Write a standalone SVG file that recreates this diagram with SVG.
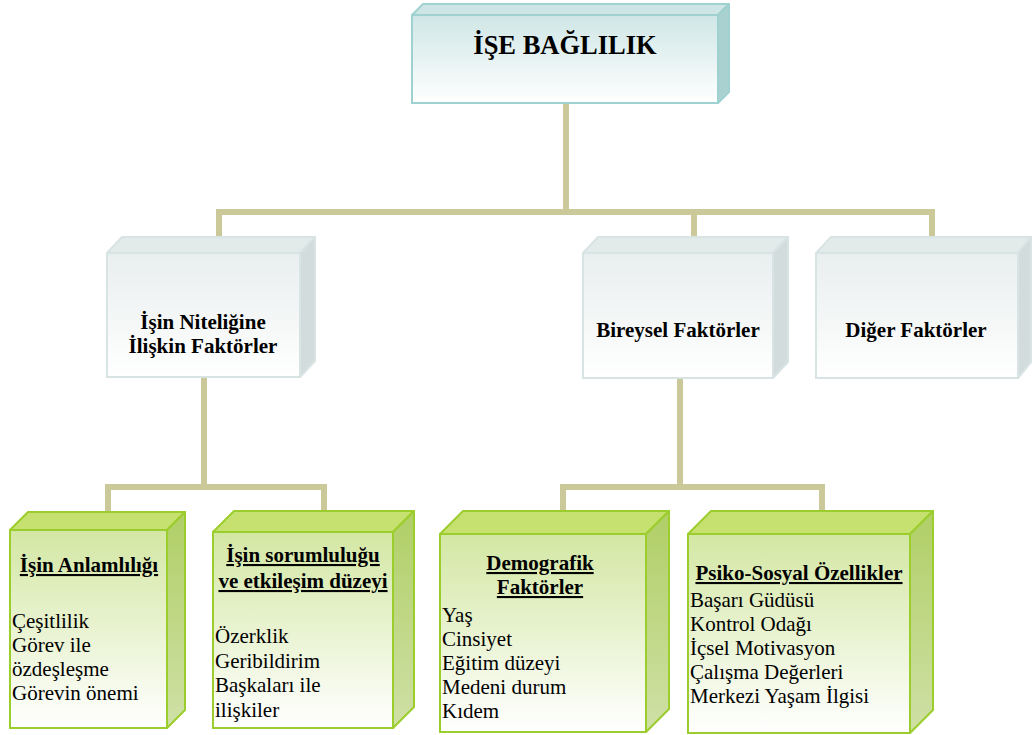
<svg xmlns="http://www.w3.org/2000/svg" width="1032" height="735" viewBox="0 0 1032 735">
<defs>
<linearGradient id="gTop" x1="0" y1="0" x2="0" y2="1">
<stop offset="0" stop-color="#cfe6e6"/><stop offset="1" stop-color="#ffffff"/>
</linearGradient>
<linearGradient id="gMid" x1="0" y1="0" x2="0" y2="1">
<stop offset="0" stop-color="#e9eeee"/><stop offset="1" stop-color="#ffffff"/>
</linearGradient>
<linearGradient id="gGreen" x1="0" y1="0" x2="0" y2="1">
<stop offset="0" stop-color="#d3e7a3"/><stop offset="1" stop-color="#ffffff"/>
</linearGradient>
<linearGradient id="gGreenSide" x1="0" y1="0" x2="0" y2="1">
<stop offset="0" stop-color="#b0cf66"/><stop offset="1" stop-color="#cfe0a6"/>
</linearGradient>
</defs>
<style>
.conn{fill:none;stroke:#cbc999;stroke-width:6;stroke-linejoin:miter}
.t-front{fill:url(#gTop);stroke:#9fd1d0;stroke-width:2}
.t-top{fill:#cde5e4;stroke:#9fd1d0;stroke-width:2;stroke-linejoin:round}
.t-side{fill:#a9d1cf;stroke:#9fd1d0;stroke-width:2;stroke-linejoin:round}
.m-front{fill:url(#gMid);stroke:#d8e3e3;stroke-width:2}
.m-top{fill:#e3eaea;stroke:#d8e3e3;stroke-width:2;stroke-linejoin:round}
.m-side{fill:#d3dcdc;stroke:#d8e3e3;stroke-width:2;stroke-linejoin:round}
.g-front{fill:url(#gGreen);stroke:#9bcd2c;stroke-width:2}
.g-top{fill:#c6e16f;stroke:#9bcd2c;stroke-width:2;stroke-linejoin:round}
.g-side{fill:url(#gGreenSide);stroke:#9bcd2c;stroke-width:2;stroke-linejoin:round}
.lbl-title{font-family:'Liberation Serif',serif;font-size:26.5px;font-weight:bold;text-anchor:middle;fill:#000}
.lbl-mid{font-family:'Liberation Serif',serif;font-size:21px;font-weight:bold;text-anchor:middle;fill:#000}
.lbl-head{font-family:'Liberation Serif',serif;font-size:21px;font-weight:bold;text-anchor:middle;text-decoration:underline;fill:#000}
.lbl-body{font-family:'Liberation Serif',serif;font-size:21px;fill:#000}
</style>
<g id="connectors">
<path class="conn" d="M566,103 V212"/>
<path class="conn" d="M219,237 V212 H932 V237"/>
<path class="conn" d="M694,212 V237"/>
<path class="conn" d="M204,377 V487"/>
<path class="conn" d="M108,512 V487 H324 V512"/>
<path class="conn" d="M680,378 V487"/>
<path class="conn" d="M563,512 V487 H822 V512"/>
</g>
<g id="node-ise-baglilik">
<polygon class="t-top" points="412,15 423,4 729,4 718,15"/>
<polygon class="t-side" points="718,15 729,4 729,92 718,103"/>
<rect class="t-front" x="412" y="15" width="306" height="88"/>
<text class="lbl-title" x="565" y="54">İŞE BAĞLILIK</text>
</g>
<g id="node-isin-niteligine">
<polygon class="m-top" points="107,253 122,237 315,237 300,253"/>
<polygon class="m-side" points="300,253 315,237 315,361 300,377"/>
<rect class="m-front" x="107" y="253" width="193" height="124"/>
<text class="lbl-mid" x="203" y="329">İşin Niteliğine</text>
<text class="lbl-mid" x="203" y="353">İlişkin Faktörler</text>
</g>
<g id="node-bireysel">
<polygon class="m-top" points="583,253 598,237 788,237 773,253"/>
<polygon class="m-side" points="773,253 788,237 788,362 773,378"/>
<rect class="m-front" x="583" y="253" width="190" height="125"/>
<text class="lbl-mid" x="678" y="337">Bireysel Faktörler</text>
</g>
<g id="node-diger">
<polygon class="m-top" points="816,253 831,237 1031,237 1018,253"/>
<polygon class="m-side" points="1018,253 1031,237 1031,362 1018,378"/>
<rect class="m-front" x="816" y="253" width="202" height="125"/>
<text class="lbl-mid" x="916" y="337">Diğer Faktörler</text>
</g>
<g id="node-isin-anlamliligi">
<polygon class="g-top" points="10,530 28,512 185,512 167,530"/>
<polygon class="g-side" points="167,530 185,512 185,710 167,728"/>
<rect class="g-front" x="10" y="530" width="157" height="198"/>
<text class="lbl-head" x="89" y="572">İşin Anlamlılığı</text>
<text class="lbl-body" x="12" y="628">Çeşitlilik</text>
<text class="lbl-body" x="12" y="652">Görev ile</text>
<text class="lbl-body" x="12" y="676">özdeşleşme</text>
<text class="lbl-body" x="12" y="700">Görevin önemi</text>
</g>
<g id="node-isin-sorumlulugu">
<polygon class="g-top" points="213,532 234,511 414,511 393,532"/>
<polygon class="g-side" points="393,532 414,511 414,707 393,728"/>
<rect class="g-front" x="213" y="532" width="180" height="196"/>
<text class="lbl-head" x="303" y="562">İşin sorumluluğu</text>
<text class="lbl-head" x="303" y="588">ve etkileşim düzeyi</text>
<text class="lbl-body" x="215" y="643">Özerklik</text>
<text class="lbl-body" x="215" y="668">Geribildirim</text>
<text class="lbl-body" x="215" y="692">Başkaları ile</text>
<text class="lbl-body" x="215" y="717">ilişkiler</text>
</g>
<g id="node-demografik">
<polygon class="g-top" points="440,534 463,511 669,511 646,534"/>
<polygon class="g-side" points="646,534 669,511 669,709 646,732"/>
<rect class="g-front" x="440" y="534" width="206" height="198"/>
<text class="lbl-head" x="540" y="570">Demografik</text>
<text class="lbl-head" x="540" y="594">Faktörler</text>
<text class="lbl-body" x="442" y="622">Yaş</text>
<text class="lbl-body" x="442" y="646">Cinsiyet</text>
<text class="lbl-body" x="442" y="670">Eğitim düzeyi</text>
<text class="lbl-body" x="442" y="694">Medeni durum</text>
<text class="lbl-body" x="442" y="718">Kıdem</text>
</g>
<g id="node-psiko-sosyal">
<polygon class="g-top" points="688,534 711,511 933,511 910,534"/>
<polygon class="g-side" points="910,534 933,511 933,710 910,733"/>
<rect class="g-front" x="688" y="534" width="222" height="199"/>
<text class="lbl-head" x="799" y="580">Psiko-Sosyal Özellikler</text>
<text class="lbl-body" x="690" y="607">Başarı Güdüsü</text>
<text class="lbl-body" x="690" y="631">Kontrol Odağı</text>
<text class="lbl-body" x="690" y="655">İçsel Motivasyon</text>
<text class="lbl-body" x="690" y="679">Çalışma Değerleri</text>
<text class="lbl-body" x="690" y="703">Merkezi Yaşam İlgisi</text>
</g>
</svg>
